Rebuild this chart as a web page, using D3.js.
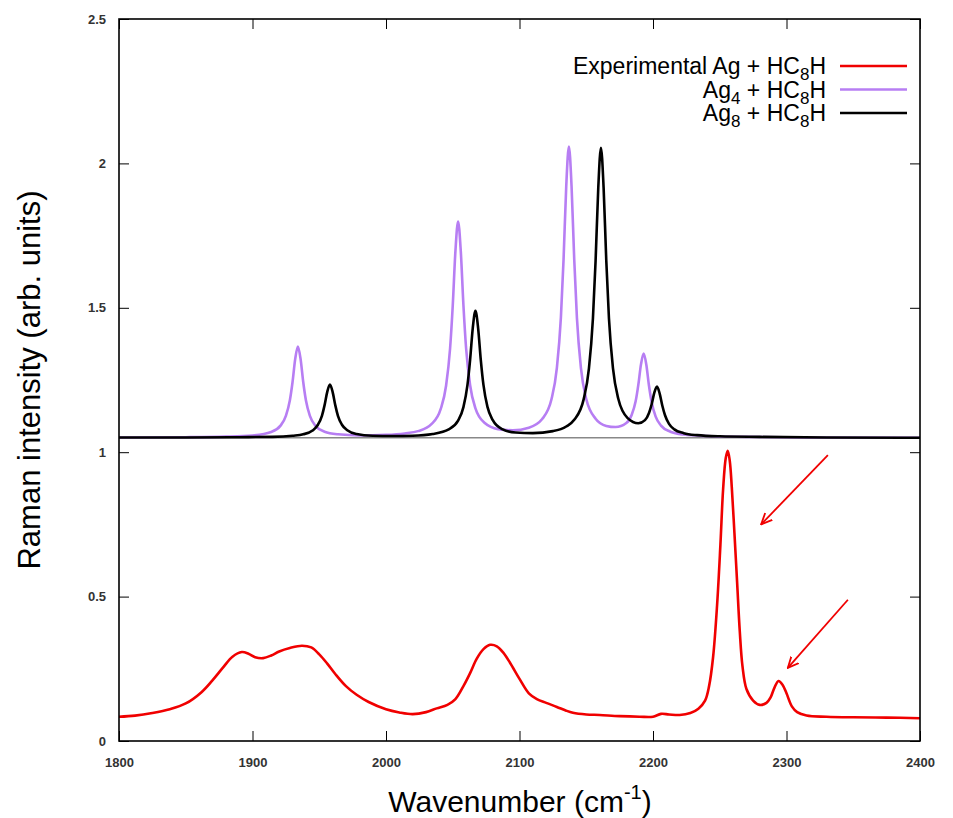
<!doctype html>
<html lang="en">
<head>
<meta charset="utf-8">
<title>Raman spectra Ag + HC8H</title>
<script src="https://cdnjs.cloudflare.com/ajax/libs/d3/7.8.5/d3.min.js"></script>
<style>
  body { margin: 0; background: #fff; }
  svg { font-family: "Liberation Sans", Arial, sans-serif; }
  .tick text { font-size: 13px; fill: #333; font-weight: bold; }
  .legend text { font-size: 23px; fill: #000; }
</style>
</head>
<body>
<script>
// experimental spectrum (wavenumber, intensity)
var expX = [1800,1812,1825,1838,1850,1862,1870,1878,1885,1892,1897,1902,1908,1914,1920,1928,1937,1944,1950,1956,1962,1970,1978,1987,2000,2010,2020,2030,2038,2046,2052,2058,2063,2068,2073,2078,2083,2088,2093,2100,2107,2113,2120,2128,2135,2140,2150,2160,2175,2190,2200,2206,2212,2220,2228,2234,2239,2242,2245,2248,2250.5,2252.5,2254.5,2256,2257.5,2259,2261,2263,2265,2267,2270,2275,2280,2285,2288,2291,2294,2297,2300,2304,2308,2315,2330,2350,2375,2400];
var expY = [.084,.088,.097,.11,.13,.17,.21,.255,.292,.308,.302,.29,.287,.296,.31,.322,.33,.324,.30,.268,.232,.19,.16,.135,.11,.099,.093,.1,.113,.125,.145,.19,.235,.285,.318,.333,.328,.305,.27,.215,.165,.145,.132,.118,.105,.098,.092,.09,.086,.084,.084,.094,.092,.09,.097,.112,.14,.19,.29,.47,.68,.87,.98,1.005,.97,.88,.72,.55,.38,.26,.18,.14,.125,.132,.15,.185,.208,.195,.165,.12,.10,.088,.084,.082,.081,.079];

// Ag4 + HC8H simulated
var ag4X = [1800,1850,1880,1900,1914,1921,1925,1928,1930,1932,1934,1936,1938,1940,1943,1947,1954,1964,1980,2000,2014,2024,2034,2041,2045,2048,2050,2052,2054,2056,2058,2060,2063,2067,2074,2084,2095,2107,2117,2124,2128,2131,2133,2135,2137,2139,2141,2143,2146,2150,2157,2165,2172,2180,2184,2187,2189,2191,2193,2195,2197,2199,2202,2206,2213,2223,2240,2270,2320,2400];
var ag4Y = [1.051,1.052,1.054,1.058,1.070,1.092,1.126,1.180,1.243,1.323,1.366,1.323,1.243,1.180,1.126,1.092,1.071,1.062,1.058,1.060,1.065,1.073,1.097,1.150,1.230,1.359,1.508,1.696,1.799,1.697,1.509,1.360,1.232,1.152,1.101,1.080,1.076,1.085,1.115,1.184,1.292,1.466,1.667,1.920,2.058,1.920,1.667,1.466,1.292,1.184,1.116,1.091,1.087,1.101,1.129,1.176,1.233,1.304,1.342,1.303,1.230,1.173,1.123,1.092,1.071,1.061,1.056,1.053,1.051,1.050];

// Ag8 + HC8H simulated
var ag8X = [1800,1850,1890,1915,1930,1938,1945,1949,1952,1954,1956,1958,1960,1962,1964,1967,1971,1978,1990,2005,2020,2035,2047,2054,2058,2061,2063,2065,2067,2069,2071,2073,2076,2080,2087,2097,2110,2125,2135,2141,2148,2152,2155,2157,2159,2161,2163,2165,2167,2170,2174,2181,2189,2194,2197,2199,2201,2203,2205,2207,2209,2212,2216,2223,2233,2250,2280,2330,2400];
var ag8Y = [1.051,1.051,1.052,1.053,1.057,1.062,1.075,1.095,1.126,1.163,1.209,1.234,1.209,1.163,1.126,1.095,1.076,1.063,1.057,1.056,1.057,1.063,1.079,1.109,1.156,1.232,1.320,1.430,1.490,1.430,1.320,1.233,1.157,1.111,1.080,1.068,1.066,1.073,1.089,1.112,1.182,1.289,1.463,1.663,1.915,2.054,1.916,1.664,1.464,1.291,1.185,1.118,1.100,1.111,1.136,1.166,1.206,1.227,1.203,1.161,1.128,1.098,1.079,1.066,1.059,1.055,1.053,1.051,1.050];

var simBase = 1.05;

var xTicks = [1800,1900,2000,2100,2200,2300,2400];
var yTicks = [0,0.5,1,1.5,2,2.5];

// arrows pointing at the two experimental peaks: [x1,y1,x2,y2]
var arrows = [[2331,0.99,2281,0.75],[2346,0.489,2301,0.253]];

var legendRows = [
  {parts:[["Experimental Ag + HC",0],["8",1],["H",0]], color:"#f00000"},
  {parts:[["Ag",0],["4",1],[" + HC",0],["8",1],["H",0]], color:"#b77ef3"},
  {parts:[["Ag",0],["8",1],[" + HC",0],["8",1],["H",0]], color:"#000000"}
];

var width = 953, height = 818;
var mLeft = 119, mRight = 920, mTop = 19, mBottom = 741;

var svg = d3.select("body").append("svg")
    .attr("width", width)
    .attr("height", height);

var x = d3.scaleLinear().domain([1800,2400]).range([mLeft,mRight]);
var y = d3.scaleLinear().domain([0,2.5]).range([mBottom,mTop]);

// axes, ticks pointing inward, mirrored on top/right
svg.append("g").attr("transform","translate(0,"+mBottom+")")
    .call(d3.axisBottom(x).tickValues(xTicks).tickFormat(d3.format("d")).tickSizeInner(-10).tickSizeOuter(0).tickPadding(17));
svg.append("g").attr("transform","translate("+mLeft+",0)")
    .call(d3.axisLeft(y).tickValues(yTicks).tickFormat(function(d){return String(d);}).tickSizeInner(-10).tickSizeOuter(0).tickPadding(13));
svg.append("g").attr("transform","translate(0,"+mTop+")")
    .call(d3.axisTop(x).tickValues(xTicks).tickFormat("").tickSizeInner(-10).tickSizeOuter(0));
svg.append("g").attr("transform","translate("+mRight+",0)")
    .call(d3.axisRight(y).tickValues(yTicks).tickFormat("").tickSizeInner(-10).tickSizeOuter(0));
svg.selectAll(".domain").remove();
svg.selectAll(".tick line").attr("stroke","#000").attr("stroke-width",1);

var line = d3.line()
    .x(function(d){return x(d[0]);})
    .y(function(d){return y(d[1]);})
    .curve(d3.curveMonotoneX);

var expLine = d3.line()
    .x(function(d){return x(d[0]);})
    .y(function(d){return y(d[1]);})
    .curve(d3.curveCatmullRom.alpha(0.5));

// simulated baseline
svg.append("line")
    .attr("x1", x(1800)).attr("x2", x(2400))
    .attr("y1", y(simBase)).attr("y2", y(simBase))
    .attr("stroke","#888").attr("stroke-width",1.5);

svg.append("path")
    .datum(d3.zip(expX, expY))
    .attr("fill","none").attr("stroke","#f00000").attr("stroke-width",2.6)
    .attr("d", expLine);
svg.append("path")
    .datum(d3.zip(ag4X, ag4Y))
    .attr("fill","none").attr("stroke","#b77ef3").attr("stroke-width",2.6)
    .attr("d", line);
svg.append("path")
    .datum(d3.zip(ag8X, ag8Y))
    .attr("fill","none").attr("stroke","#000").attr("stroke-width",2.6)
    .attr("d", line);

// frame
svg.append("rect")
    .attr("x",mLeft).attr("y",mTop)
    .attr("width",mRight-mLeft).attr("height",mBottom-mTop)
    .attr("fill","none").attr("stroke","#000").attr("stroke-width",1.6);

// arrows
svg.append("defs").append("marker")
    .attr("id","head").attr("viewBox","0 0 12 12")
    .attr("refX",11).attr("refY",6)
    .attr("markerWidth",12).attr("markerHeight",12)
    .attr("markerUnits","userSpaceOnUse")
    .attr("orient","auto")
  .append("path")
    .attr("d","M0,1 L11,6 L0,11")
    .attr("fill","none").attr("stroke","#f00000").attr("stroke-width",1.8);

svg.selectAll(".arrow").data(arrows).enter().append("line")
    .attr("class","arrow")
    .attr("x1",function(d){return x(d[0]);}).attr("y1",function(d){return y(d[1]);})
    .attr("x2",function(d){return x(d[2]);}).attr("y2",function(d){return y(d[3]);})
    .attr("stroke","#f00000").attr("stroke-width",1.8)
    .attr("marker-end","url(#head)");

// legend
var lg = svg.append("g").attr("class","legend");
legendRows.forEach(function(r, i){
  var ly = 66 + i*23.5;
  var t = lg.append("text")
      .attr("x", 826).attr("y", ly + 8)
      .attr("text-anchor","end");
  var shifted = false;
  r.parts.forEach(function(p){
    var ts = t.append("tspan").text(p[0]);
    if (p[1]) { ts.attr("font-size","17px").attr("dy","6"); shifted = true; }
    else if (shifted) { ts.attr("dy","-6"); shifted = false; }
  });
  lg.append("line")
      .attr("x1", 840).attr("x2", 907)
      .attr("y1", ly).attr("y2", ly)
      .attr("stroke", r.color).attr("stroke-width", 2.6);
});

// axis titles
svg.append("text")
    .attr("transform","translate(40,380) rotate(-90)")
    .attr("text-anchor","middle")
    .attr("font-size","31px")
    .text("Raman intensity (arb. units)");

var xt = svg.append("text")
    .attr("x", 520).attr("y", 812)
    .attr("text-anchor","middle")
    .attr("font-size","30px");
xt.append("tspan").text("Wavenumber (cm");
xt.append("tspan").attr("font-size","20px").attr("dy","-13").text("-1");
xt.append("tspan").attr("dy","13").text(")");
</script>
</body>
</html>
